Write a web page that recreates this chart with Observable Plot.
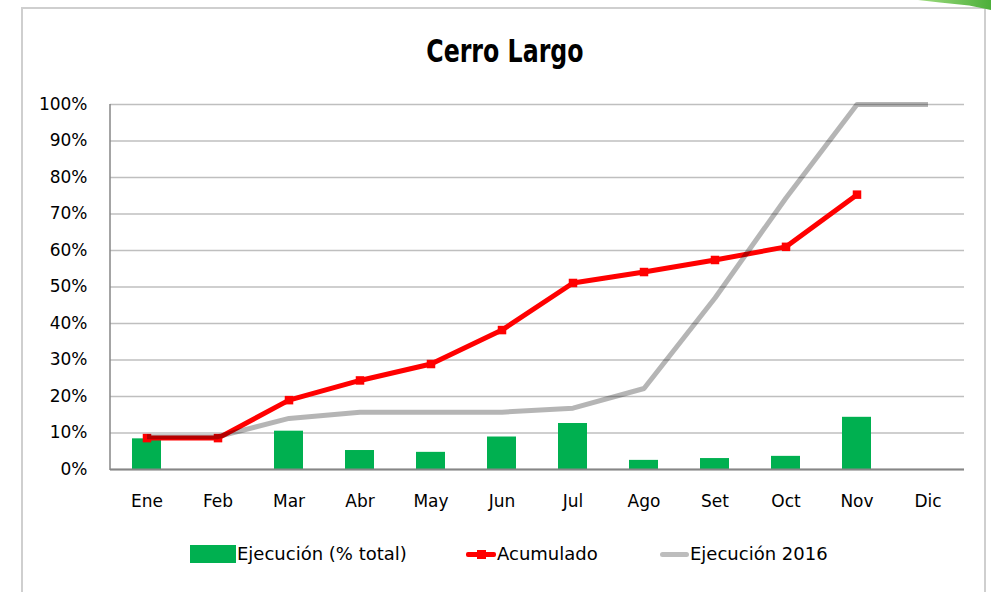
<!DOCTYPE html>
<html>
<head>
<meta charset="utf-8">
<script src="https://cdn.jsdelivr.net/npm/d3@7"></script>
<script src="https://cdn.jsdelivr.net/npm/@observablehq/plot@0.6"></script>
<style>
  html, body { margin: 0; padding: 0; background: #fff; width: 991px; height: 592px; overflow: hidden; }
  #frame { position: absolute; left: 21px; top: 7px; width: 965px; height: 600px; border: 2px solid #cfcfcf; box-sizing: border-box; }
  #corner { position: absolute; left: 918px; top: 0; width: 73px; height: 10px;
    background: linear-gradient(90deg, #9fdc80, #4caf3a); clip-path: polygon(0 0, 100% 0, 100% 100%, 70% 55%, 30% 25%); }
  #title { position: absolute; left: 21px; width: 967px; top: 35px; text-align: center; line-height: 32px;
    font-family: "DejaVu Sans", sans-serif; font-weight: bold; font-size: 32px; color: #000;
    transform: scaleX(0.74); transform-origin: 485px 0; }
  #chart { position: absolute; left: 0; top: 80px; }
  .leg { position: absolute; font-family: "DejaVu Sans", sans-serif; font-size: 18px; color: #000; line-height: 20px; }
</style>
</head>
<body>
<div id="frame"></div>
<div id="corner"></div>
<div id="title">Cerro Largo</div>
<div id="chart"></div>
<div id="legend"></div>
<script>
const months = ["Ene","Feb","Mar","Abr","May","Jun","Jul","Ago","Set","Oct","Nov","Dic"];
const ejecucion = [8.4, 0, 10.5, 5.2, 4.7, 8.9, 12.6, 2.5, 3.0, 3.6, 14.3, null];
const acumulado = [8.6, 8.6, 19.0, 24.4, 28.9, 38.2, 51.1, 54.1, 57.4, 61.0, 75.3, null];
const ejecucion2016 = [9.0, 9.0, 14.0, 15.7, 15.7, 15.7, 16.8, 22.2, 47.0, 74.4, 100, 100];
const yTicks = [0,10,20,30,40,50,60,70,80,90,100];
const seriesNames = ["Ejecución (% total)", "Acumulado", "Ejecución 2016"];
const colors = { bar: "#00B050", acum: "#FF0000", e2016: "#000000" };

const data = months.map((m, i) => ({ month: m, ejec: ejecucion[i], acum: acumulado[i], e2016: ejecucion2016[i] }));

const W = 991, H = 450, mL = 110, mR = 27, mT = 24, mB = 61;
const plot = Plot.plot({
  width: W, height: H, marginLeft: mL, marginRight: mR, marginTop: mT, marginBottom: mB,
  style: { fontFamily: "DejaVu Sans, sans-serif", fontSize: "17px", color: "#000", background: "transparent", overflow: "visible" },
  x: { domain: months, paddingInner: 0.59, paddingOuter: 0.295, label: null, tickSize: 0, tickPadding: 25 },
  y: { domain: [0, 100], ticks: yTicks, label: null, tickFormat: d => d + "%", tickSize: 0, tickPadding: 23 },
  marks: [
    Plot.gridY(yTicks, { stroke: "#bfbfbf", strokeOpacity: 1, strokeWidth: 1.6 }),
    Plot.barY(data.filter(d => d.ejec != null && d.ejec > 0), { x: "month", y: "ejec", fill: colors.bar }),
    Plot.ruleY([0], { stroke: "#868686", strokeWidth: 2 }),
    Plot.lineY(data.filter(d => d.acum != null), { x: "month", y: "acum", stroke: colors.acum, strokeWidth: 5, strokeLinejoin: "round" }),
    Plot.dot(data.filter(d => d.acum != null), { x: "month", y: "acum", symbol: "square", r: 4.8, fill: colors.acum, stroke: null }),
    Plot.lineY(data, { x: "month", y: "e2016", stroke: colors.e2016, strokeOpacity: 0.29, strokeWidth: 5, strokeLinejoin: "round", strokeLinecap: "butt" })
  ]
});
document.getElementById("chart").appendChild(plot);

// y-axis line on the left edge of the plot area
d3.select(plot).append("line")
  .attr("x1", mL).attr("x2", mL).attr("y1", mT).attr("y2", H - mB + 1)
  .attr("stroke", "#868686").attr("stroke-width", 1.5);

// legend
const legend = document.getElementById("legend");
function addDiv(style, text) {
  const el = document.createElement("div");
  el.className = "leg";
  Object.assign(el.style, style);
  if (text) el.textContent = text;
  legend.appendChild(el);
  return el;
}
addDiv({ left: "190px", top: "545px", width: "46px", height: "18px", background: colors.bar });
addDiv({ left: "237px", top: "544px" }, seriesNames[0]);
addDiv({ left: "466px", top: "552px", width: "30px", height: "5px", background: colors.acum, borderRadius: "2px" });
addDiv({ left: "477px", top: "550px", width: "9px", height: "9px", background: colors.acum });
addDiv({ left: "497px", top: "544px" }, seriesNames[1]);
addDiv({ left: "660px", top: "552px", width: "29px", height: "5px", background: "#bdbdbd", borderRadius: "2.5px" });
addDiv({ left: "690px", top: "544px" }, seriesNames[2]);
</script>
</body>
</html>
